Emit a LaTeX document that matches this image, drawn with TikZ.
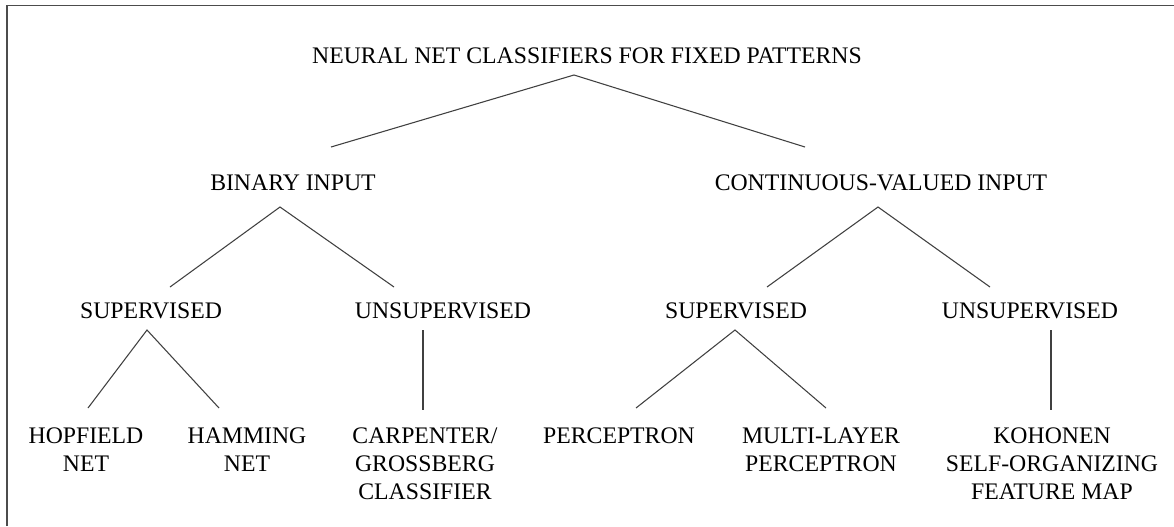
\documentclass[tikz,border=0pt]{standalone}
\usepackage{fontspec}
\setmainfont{Liberation Serif}
\tikzset{
  label/.style={anchor=base, inner sep=0pt, font=\fontsize{17.8}{21}\selectfont},
  branch/.style={draw=black!75, line width=0.8pt},
  frame/.style={draw=black!70, line width=1.1pt}
}
\newcommand{\stack}[1]{\begin{tabular}[t]{@{}c@{}}#1\end{tabular}}
\begin{document}
\begin{tikzpicture}[x=0.75pt, y=-0.75pt]
  \useasboundingbox (0,0) rectangle (1174,526);
  % open frame: left and top edges
  \draw[frame] (7,526) -- (7,5.5) -- (1174,5.5);

  % labels
  \node[label] (title) at (587,63)  {NEURAL NET CLASSIFIERS FOR FIXED PATTERNS};
  \node[label] (bin)   at (293,190) {BINARY INPUT};
  \node[label] (cont)  at (881,190) {CONTINUOUS-VALUED INPUT};
  \node[label] (supA)  at (151,318) {SUPERVISED};
  \node[label] (unsA)  at (443,318) {UNSUPERVISED};
  \node[label] (supB)  at (736,318) {SUPERVISED};
  \node[label] (unsB)  at (1030,318) {UNSUPERVISED};
  \node[label] (hop)   at (86,443)  {\stack{HOPFIELD\\NET}};
  \node[label] (ham)   at (247,443) {\stack{HAMMING\\NET}};
  \node[label] (carp)  at (425,443) {\stack{CARPENTER/\\GROSSBERG\\CLASSIFIER}};
  \node[label] (perc)  at (619,443) {PERCEPTRON};
  \node[label] (mlp)   at (821,443) {\stack{MULTI-LAYER\\PERCEPTRON}};
  \node[label] (koh)   at (1052,443) {\stack{KOHONEN\\SELF-ORGANIZING\\FEATURE MAP}};

  % branch end points
  \coordinate (titleFork) at (574,75);
  \coordinate (binTop)    at (331,147);
  \coordinate (contTop)   at (805,147);
  \coordinate (binFork)   at (280,207);
  \coordinate (supATop)   at (170,287);
  \coordinate (unsATop)   at (394,287);
  \coordinate (contFork)  at (878,207);
  \coordinate (supBTop)   at (767,287);
  \coordinate (unsBTop)   at (990,287);
  \coordinate (supAFork)  at (147,330);
  \coordinate (hopTop)    at (88,408);
  \coordinate (hamTop)    at (219,408);
  \coordinate (unsAFoot)  at (423,330);
  \coordinate (carpTop)   at (423,410);
  \coordinate (supBFork)  at (735,330);
  \coordinate (percTop)   at (636,408);
  \coordinate (mlpTop)    at (826,408);
  \coordinate (unsBFoot)  at (1051,330);
  \coordinate (kohTop)    at (1051,410);

  % branches
  \draw[branch] (binTop) -- (titleFork) -- (contTop);
  \draw[branch] (supATop) -- (binFork) -- (unsATop);
  \draw[branch] (supBTop) -- (contFork) -- (unsBTop);
  \draw[branch] (hopTop) -- (supAFork) -- (hamTop);
  \draw[branch] (unsAFoot) -- (carpTop);
  \draw[branch] (percTop) -- (supBFork) -- (mlpTop);
  \draw[branch] (unsBFoot) -- (kohTop);
\end{tikzpicture}
\end{document}
